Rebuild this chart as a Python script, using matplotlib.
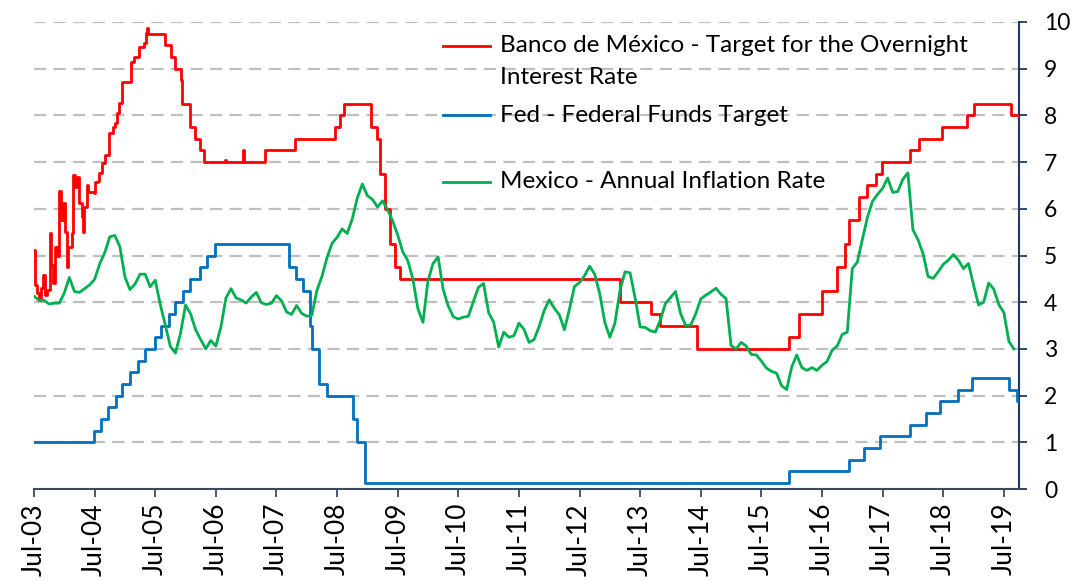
import matplotlib
matplotlib.use("Agg")
import matplotlib.pyplot as plt
from matplotlib.lines import Line2D
import numpy as np

plt.rcParams['font.family'] = ['Lato', 'DejaVu Sans']

# ---------------- data ----------------
tick_years = [2003.5, 2004.5, 2005.5, 2006.5, 2007.5, 2008.5, 2009.5, 2010.5, 2011.5,
              2012.5, 2013.5, 2014.5, 2015.5, 2016.5, 2017.5, 2018.5, 2019.5]
tick_labels = ['Jul-03', 'Jul-04', 'Jul-05', 'Jul-06', 'Jul-07', 'Jul-08', 'Jul-09',
               'Jul-10', 'Jul-11', 'Jul-12', 'Jul-13', 'Jul-14', 'Jul-15', 'Jul-16',
               'Jul-17', 'Jul-18', 'Jul-19']

# Banco de México overnight rate / target (decimal years, %)
banxico_t = [2003.50, 2003.52, 2003.55, 2003.58, 2003.62, 2003.65, 2003.68, 2003.71,
             2003.76, 2003.78, 2003.81, 2003.85, 2003.88, 2003.91, 2003.95, 2003.98,
             2004.01, 2004.04, 2004.06, 2004.13, 2004.14, 2004.18, 2004.21, 2004.24,
             2004.29, 2004.31, 2004.33, 2004.37, 2004.39, 2004.49, 2004.51, 2004.56,
             2004.57, 2004.62, 2004.67, 2004.74, 2004.80, 2004.84, 2004.87, 2004.90,
             2004.95, 2005.10, 2005.15, 2005.23, 2005.32, 2005.35, 2005.36, 2005.38,
             2005.66, 2005.76, 2005.83, 2005.93, 2005.94, 2006.07, 2006.16, 2006.24,
             2006.31, 2006.65, 2006.66, 2006.95, 2006.97, 2007.31, 2007.81, 2008.47,
             2008.55, 2008.62, 2009.06, 2009.16, 2009.21, 2009.29, 2009.37, 2009.46,
             2009.54, 2013.17, 2013.68, 2013.83, 2014.44, 2015.96, 2016.12, 2016.50,
             2016.75, 2016.88, 2016.95, 2017.11, 2017.25, 2017.39, 2017.49, 2017.96,
             2018.10, 2018.48, 2018.90, 2019.00, 2019.62, 2019.74]
banxico_v = [5.12, 4.37, 4.20, 4.05, 4.30, 4.58, 4.15, 4.26,
             5.48, 4.80, 4.41, 5.18, 5.00, 6.38, 5.76, 6.12,
             5.50, 4.75, 5.18, 5.48, 6.72, 6.47, 6.68, 6.12,
             5.82, 5.50, 6.04, 6.51, 6.36, 6.34, 6.57, 6.60,
             6.77, 6.98, 7.15, 7.62, 7.75, 7.84, 8.05, 8.26,
             8.72, 9.14, 9.25, 9.47, 9.55, 9.76, 9.87, 9.75,
             9.50, 9.25, 9.00, 8.75, 8.25, 7.75, 7.50, 7.25,
             7.00, 7.05, 7.00, 7.25, 7.00, 7.25, 7.50, 7.75,
             8.00, 8.25, 7.75, 7.50, 6.75, 6.00, 5.25, 4.75,
             4.50, 4.00, 3.75, 3.50, 3.00, 3.25, 3.75, 4.25,
             4.75, 5.25, 5.75, 6.25, 6.50, 6.75, 7.00, 7.25,
             7.50, 7.75, 8.00, 8.25, 8.00, 8.00]

# Fed funds target (decimal years, %)
fed_t = [2003.50, 2004.49, 2004.61, 2004.72, 2004.86, 2004.95, 2005.09, 2005.22,
         2005.33, 2005.49, 2005.60, 2005.72, 2005.83, 2005.95, 2006.08, 2006.24,
         2006.36, 2006.49, 2007.71, 2007.83, 2007.94, 2008.06, 2008.08, 2008.21,
         2008.33, 2008.77, 2008.83, 2008.96, 2015.96, 2016.95, 2017.20, 2017.45,
         2017.95, 2018.22, 2018.45, 2018.74, 2018.97, 2019.58, 2019.71, 2019.75]
fed_v = [1.00, 1.25, 1.50, 1.75, 2.00, 2.25, 2.50, 2.75,
         3.00, 3.25, 3.50, 3.75, 4.00, 4.25, 4.50, 4.75,
         5.00, 5.25, 4.75, 4.50, 4.25, 3.50, 3.00, 2.25,
         2.00, 1.50, 1.00, 0.125, 0.375, 0.625, 0.875, 1.125,
         1.375, 1.625, 1.875, 2.125, 2.375, 2.125, 1.875, 1.875]

# Mexico annual inflation, monthly from Jul-2003 to Sep-2019 (%)
infl_start = 2003.5
inflation = [4.13, 4.04, 4.04, 3.96, 3.98, 3.98,
             4.20, 4.53, 4.23, 4.21, 4.29, 4.37, 4.49, 4.82, 5.06, 5.40, 5.43, 5.19,
             4.54, 4.27, 4.39, 4.60, 4.60, 4.33, 4.47, 3.95, 3.51, 3.05, 2.91, 3.33,
             3.94, 3.75, 3.41, 3.20, 3.00, 3.18, 3.06, 3.47, 4.09, 4.29, 4.09, 4.05,
             3.98, 4.11, 4.21, 3.99, 3.95, 3.98, 4.14, 4.03, 3.79, 3.74, 3.93, 3.76,
             3.70, 3.72, 4.25, 4.55, 4.95, 5.26, 5.39, 5.57, 5.47, 5.78, 6.23, 6.53,
             6.28, 6.20, 6.04, 6.17, 5.98, 5.74, 5.44, 5.08, 4.89, 4.50, 3.86, 3.57,
             4.46, 4.83, 4.97, 4.27, 3.92, 3.69, 3.64, 3.68, 3.70, 4.02, 4.32, 4.40,
             3.78, 3.57, 3.04, 3.36, 3.25, 3.28, 3.55, 3.42, 3.14, 3.20, 3.48, 3.82,
             4.05, 3.87, 3.73, 3.41, 3.85, 4.34, 4.42, 4.57, 4.77, 4.60, 4.18, 3.57,
             3.25, 3.55, 4.25, 4.65, 4.63, 4.09, 3.47, 3.46, 3.39, 3.36, 3.62, 3.97,
             4.10, 4.23, 3.76, 3.50, 3.51, 3.75, 4.07, 4.15, 4.22, 4.30, 4.17, 4.08,
             3.07, 3.00, 3.14, 3.06, 2.88, 2.87, 2.74, 2.59, 2.52, 2.48, 2.21, 2.13,
             2.61, 2.87, 2.60, 2.54, 2.60, 2.54, 2.65, 2.73, 2.97, 3.06, 3.31, 3.36,
             4.72, 4.86, 5.35, 5.82, 6.16, 6.31, 6.44, 6.66, 6.35, 6.37, 6.63, 6.77,
             5.55, 5.34, 5.04, 4.55, 4.51, 4.65, 4.81, 4.90, 5.02, 4.90, 4.72, 4.83,
             4.37, 3.94, 4.00, 4.41, 4.28, 3.95, 3.78, 3.16, 3.00]

legend_labels = ['Banco de México - Target for the Overnight\nInterest Rate',
                 'Fed - Federal Funds Target',
                 'Mexico - Annual Inflation Rate']

# ---------------- styling ----------------
RED = '#FF0000'
BLUE = '#0070C0'
GREEN = '#00B050'
AXIS = '#1F3864'
GRID = '#BFBFBF'

W, H = 1077, 581
fig = plt.figure(figsize=(W / 100, H / 100), dpi=100)
ax = fig.add_axes([34 / W, (H - 489) / H, (1019 - 34) / W, (489 - 22) / H])

infl_t = infl_start + np.arange(len(inflation)) / 12.0

ax.plot(banxico_t, banxico_v, color=RED, lw=2.0, drawstyle='steps-post', zorder=3)
ax.plot(fed_t, fed_v, color=BLUE, lw=2.0, drawstyle='steps-post', zorder=3)
ax.plot(infl_t, inflation, color=GREEN, lw=2.0, zorder=4)

ax.set_xlim(2003.5, 2019.75)
ax.set_ylim(0, 10)

for v in range(1, 11):
    ax.axhline(v, color=GRID, lw=1.6, dashes=(5.5, 3.3), zorder=1)

ax.yaxis.tick_right()
ax.set_yticks(range(0, 11))
ax.set_yticklabels([str(v) for v in range(0, 11)])
ax.set_xticks(tick_years)
ax.set_xticklabels(tick_labels, rotation=90, va='top', ha='center')

for s in ['left', 'top']:
    ax.spines[s].set_visible(False)
ax.spines['right'].set_color(AXIS)
ax.spines['right'].set_linewidth(1.5)
ax.spines['bottom'].set_color('#3B4A63')
ax.spines['bottom'].set_linewidth(1.5)
ax.tick_params(axis='y', right=True, left=False, direction='out', length=6,
               width=1.3, color=AXIS, labelsize=16.5, pad=12)
ax.tick_params(axis='x', direction='out', length=6, width=1.3, color='#3B4A63',
               labelsize=19, pad=4)

# ---------------- legend (manual) ----------------
def fx(x):
    return x / W

def fy(y):
    return (H - y) / H

legend_rows = [(46, RED), (115, BLUE), (182, GREEN)]
line_gap = 32
for (yy, col), lab in zip(legend_rows, legend_labels):
    fig.add_artist(Line2D([fx(443), fx(490)], [fy(yy), fy(yy)], color=col, lw=2.0))
    for k, part in enumerate(lab.split('\n')):
        fig.text(fx(500), fy(yy + k * line_gap), part, fontsize=17.5,
                 va='center', ha='left', color='black')

fig.savefig('out.png', dpi=100)
